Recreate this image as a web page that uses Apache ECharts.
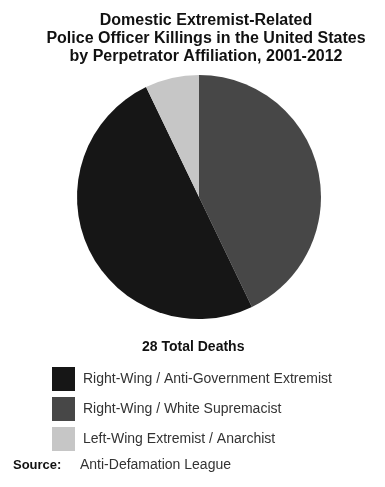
<!DOCTYPE html>
<html>
<head>
<meta charset="utf-8">
<style>
  html, body { margin: 0; padding: 0; background: #fff; }
  #chart { width: 385px; height: 487px; }
</style>
<script src="https://cdn.jsdelivr.net/npm/echarts@6/dist/echarts.min.js"></script>
</head>
<body>
<div id="chart"></div>
<script>
// Perpetrator affiliation categories and death counts, 2001-2012
const categories = [
  'Right-Wing / White Supremacist',
  'Right-Wing / Anti-Government Extremist',
  'Left-Wing Extremist / Anarchist'
];
const deaths = [12, 14, 2];
const sliceColors = ['#474747', '#161616', '#c6c6c6'];
const legendOrder = [
  'Right-Wing / Anti-Government Extremist',
  'Right-Wing / White Supremacist',
  'Left-Wing Extremist / Anarchist'
];
const totalDeaths = deaths.reduce((a, b) => a + b, 0);

const font = '"Liberation Sans", Arial, Helvetica, sans-serif';
const chart = echarts.init(document.getElementById('chart'), null, { renderer: 'canvas' });

chart.setOption({
  backgroundColor: '#ffffff',
  animation: false,
  title: {
    text: 'Domestic Extremist-Related\nPolice Officer Killings in the United States\nby Perpetrator Affiliation, 2001-2012',
    left: 201,
    top: 7,
    textAlign: 'center',
    textStyle: {
      fontFamily: font,
      fontWeight: 'bold',
      fontSize: 16,
      lineHeight: 18,
      color: '#111'
    }
  },
  legend: {
    orient: 'vertical',
    left: 47,
    top: 362,
    itemWidth: 23,
    itemHeight: 24,
    itemGap: 6,
    icon: 'rect',
    data: legendOrder,
    selectedMode: false,
    textStyle: {
      fontFamily: font,
      fontSize: 14,
      color: '#333',
      padding: [0, 0, 0, 3]
    }
  },
  graphic: [
    {
      type: 'text',
      left: 142,
      top: 340,
      style: {
        text: totalDeaths + ' Total Deaths',
        font: 'bold 14px ' + font,
        fill: '#111'
      }
    },
    {
      type: 'text',
      left: 13,
      top: 459,
      style: {
        text: 'Source:',
        font: 'bold 13px ' + font,
        fill: '#111'
      }
    },
    {
      type: 'text',
      left: 80,
      top: 458,
      style: {
        text: 'Anti-Defamation League',
        font: '14px ' + font,
        fill: '#333'
      }
    }
  ],
  series: [{
    type: 'pie',
    center: [199, 197],
    radius: 122,
    startAngle: 90,
    clockwise: true,
    label: { show: false },
    labelLine: { show: false },
    emphasis: { disabled: true },
    itemStyle: { borderWidth: 0 },
    data: categories.map((name, i) => ({
      name: name,
      value: deaths[i],
      itemStyle: { color: sliceColors[i] }
    }))
  }]
});
</script>
</body>
</html>
